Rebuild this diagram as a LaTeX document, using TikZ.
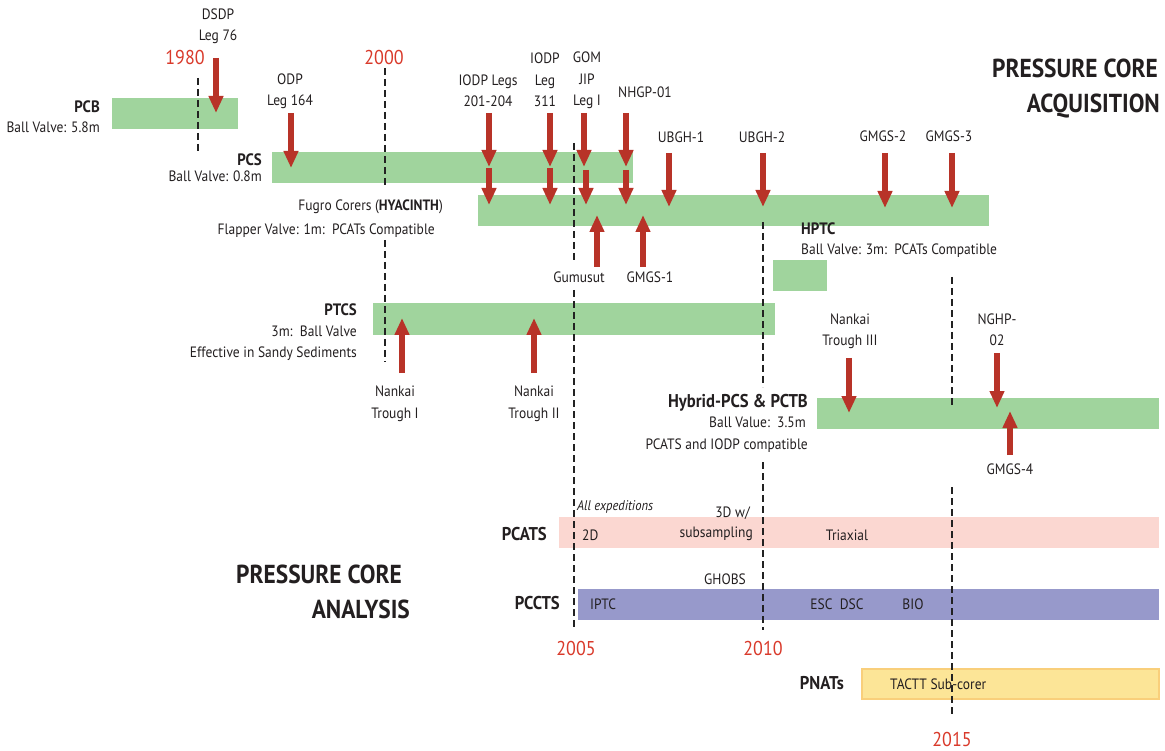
\documentclass[tikz,border=0pt]{standalone}
\usepackage{fontspec}
\setmainfont{PT Sans}[FakeStretch=0.9]
\usetikzlibrary{arrows.meta}
\definecolor{ink}{HTML}{231F20}
\definecolor{barg}{HTML}{A0D49D}
\definecolor{arrred}{HTML}{B83328}
\definecolor{yearred}{HTML}{D93A2B}
\definecolor{pinkbar}{HTML}{FBD7D1}
\definecolor{bluebar}{HTML}{9799CB}
\definecolor{yelbar}{HTML}{FCE597}
\definecolor{yeledge}{HTML}{F9CF7B}
\definecolor{dashc}{HTML}{222222}
\begin{document}
\begin{tikzpicture}[x=1pt,y=-1pt,
  lbl/.style={font=\fontsize{15}{21.5}\selectfont, text=ink, inner sep=0pt, align=center},
  bld/.style={font=\bfseries\fontsize{16.5}{20}\selectfont, text=ink, inner sep=0pt},
  bldl/.style={font=\bfseries\fontsize{18.5}{22}\selectfont, text=ink, inner sep=0pt},
  yearlbl/.style={font=\fontsize{20}{24}\selectfont, text=yearred, inner sep=0pt},
  ttl/.style={font=\bfseries\fontsize{26}{34}\selectfont, text=ink, inner sep=0pt},
  vline/.style={draw=dashc, line width=2.5pt, dash pattern=on 7pt off 4pt},
  evt/.style={draw=arrred, line width=6pt, -{Triangle[width=14pt,length=17pt]}}]
\useasboundingbox (0,0) rectangle (1165,751);
% bars
\fill[barg] (112,98) rectangle (238,129);
\fill[barg] (272,152) rectangle (633,183);
\fill[barg] (478,195) rectangle (989,226);
\fill[barg] (773,260) rectangle (827,291);
\fill[barg] (373,303) rectangle (775,335);
\fill[barg] (817,398) rectangle (1159,429);
\fill[pinkbar] (559,517) rectangle (1159,548);
\fill[bluebar] (578,589) rectangle (1159,620);
\filldraw[fill=yelbar, draw=yeledge, line width=1.5pt] (862,669) rectangle (1159,699);
% dashed year lines
\draw[vline] (198,78) -- (198,153);
\draw[vline] (385,68) -- (385,188);
\draw[vline] (385,240) -- (385,362);
\draw[vline] (574,143) -- (574,262);
\draw[vline] (574,290) -- (574,627);
\draw[vline] (763,222) -- (763,387);
\draw[vline] (763,462) -- (763,630);
\draw[vline] (952,277) -- (952,408);
\draw[vline] (952,487) -- (952,717);
% years
\node[yearlbl, anchor=base] (y1980) at (185,65) {1980};
\node[yearlbl, anchor=base] (y2000) at (384,65) {2000};
\node[yearlbl, anchor=base] (y2005) at (576,655) {2005};
\node[yearlbl, anchor=base] (y2010) at (763,655) {2010};
\node[yearlbl, anchor=base] (y2015) at (952,746) {2015};
% titles
\node[ttl, anchor=base east] (t1) at (1158,78) {PRESSURE CORE};
\node[ttl, anchor=base east] (t2) at (1160,113) {ACQUISITION};
\node[ttl, anchor=base west] (t3) at (236,583) {PRESSURE CORE};
\node[ttl, anchor=base east] (t4) at (410,618) {ANALYSIS};
% tool labels
\node[bld, anchor=base east] (pcb) at (100,113) {PCB};
\node[lbl, anchor=base east] (pcbv) at (100,133) {Ball Valve: 5.8m};
\node[bld, anchor=base east] (pcs) at (262,166) {PCS};
\node[lbl, anchor=base east] (pcsv) at (262,182) {Ball Valve: 0.8m};
\node[lbl, anchor=base east] (fugro) at (443,211) {Fugro Corers (\textbf{HYACINTH})};
\node[lbl, anchor=base east] (fugrov) at (435,235) {Flapper Valve: 1m:~~PCATs Compatible};
\node[bld, anchor=base west] (hptc) at (801,235) {HPTC};
\node[lbl, anchor=base west] (hptcv) at (801,255) {Ball Valve: 3m:~~PCATs Compatible};
\node[bld, anchor=base east] (ptcs) at (357,316) {PTCS};
\node[lbl, anchor=base east] (ptcsv) at (357,337) {3m:~~Ball Valve};
\node[lbl, anchor=base east] (ptcsw) at (357,358) {Effective in Sandy Sediments};
\node[bldl, anchor=base east] (hyb) at (808,407) {Hybrid-PCS \& PCTB};
\node[lbl, anchor=base east] (hybv) at (806,427) {Ball Value:~~3.5m};
\node[lbl, anchor=base east] (hybw) at (808,449) {PCATS and IODP compatible};
\node[bldl, anchor=base east] (pcats) at (547,540) {PCATS};
\node[bldl, anchor=base east] (pccts) at (560,609) {PCCTS};
\node[bldl, anchor=base east] (pnats) at (844,689) {PNATs};
% analysis labels
\node[lbl, anchor=base west, font=\itshape\fontsize{14}{17}\selectfont] (allexp) at (577,510) {All expeditions};
\node[lbl, anchor=base west] (twod) at (582,540) {2D};
\node[lbl, anchor=base east] (threed) at (750,517) {3D w/};
\node[lbl, anchor=base east] (subs) at (753,537) {subsampling};
\node[lbl, anchor=base] (triax) at (847,540) {Triaxial};
\node[lbl, anchor=base] (ghobs) at (725,584) {GHOBS};
\node[lbl, anchor=base west] (iptc) at (590,609) {IPTC};
\node[lbl, anchor=base] (escdsc) at (837,609) {ESC~~DSC};
\node[lbl, anchor=base] (bio) at (913,609) {BIO};
\node[lbl, anchor=base west] (tactt) at (890,689) {TACTT Sub-corer};
% event labels (base = last line)
\node[lbl, anchor=base] (dsdp) at (218,41) {DSDP\\Leg 76};
\node[lbl, anchor=base] (odp) at (290,106) {ODP\\Leg 164};
\node[lbl, anchor=base] (iodpa) at (488,107) {IODP Legs\\201-204};
\node[lbl, anchor=base] (iodpb) at (545,107) {IODP\\Leg\\311};
\node[lbl, anchor=base] (gom) at (587,106) {GOM\\JIP\\Leg I};
\node[lbl, anchor=base] (nhgp) at (645,98) {NHGP-01};
\node[lbl, anchor=base] (ubgha) at (681,143) {UBGH-1};
\node[lbl, anchor=base] (ubghb) at (762,143) {UBGH-2};
\node[lbl, anchor=base] (gmgsb) at (883,142) {GMGS-2};
\node[lbl, anchor=base] (gmgsc) at (949,142) {GMGS-3};
\node[lbl, anchor=base] (gumu) at (579,283) {Gumusut};
\node[lbl, anchor=base] (gmgsa) at (650,283) {GMGS-1};
\node[lbl, anchor=base] (nka) at (395,418) {Nankai\\Trough I};
\node[lbl, anchor=base] (nkb) at (534,418) {Nankai\\Trough II};
\node[lbl, anchor=base] (nkc) at (850,346) {Nankai\\Trough III};
\node[lbl, anchor=base] (nghp) at (997,346) {NGHP-\\02};
\node[lbl, anchor=base] (gmgsd) at (1010,474) {GMGS-4};
% arrows
\draw[evt] (216,58) -- (216,113);
\draw[evt] (291,113) -- (291,168);
\draw[evt] (489,113) -- (489,167);
\draw[evt] (489,168) -- (489,205);
\draw[evt] (550,113) -- (550,167);
\draw[evt] (550,168) -- (550,205);
\draw[evt] (584,113) -- (584,167);
\draw[evt] (586,170) -- (586,205);
\draw[evt] (626,113) -- (626,167);
\draw[evt] (626,170) -- (626,205);
\draw[evt] (669,153) -- (669,207);
\draw[evt] (763,153) -- (763,207);
\draw[evt] (885,153) -- (885,208);
\draw[evt] (952,153) -- (952,208);
\draw[evt] (597,267) -- (597,215);
\draw[evt] (643,267) -- (643,215);
\draw[evt] (402,373) -- (402,318);
\draw[evt] (534,373) -- (534,318);
\draw[evt] (849,358) -- (849,413);
\draw[evt] (997,353) -- (997,408);
\draw[evt] (1010,455) -- (1010,411);
\end{tikzpicture}
\end{document}
